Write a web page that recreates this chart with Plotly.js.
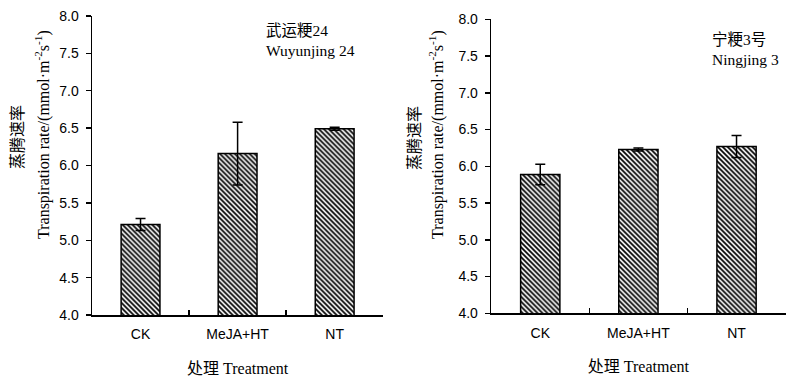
<!DOCTYPE html>
<html>
<head>
<meta charset="utf-8">
<script src="https://cdn.plot.ly/plotly-3.0.1.min.js"></script>
<style>html,body{margin:0;padding:0;background:#fff}#chart{width:800px;height:387px}</style>
</head>
<body>
<div id="chart"></div>
<script>
// Data
const categories = ["CK", "MeJA+HT", "NT"];
const wuyunjingValues = [5.21, 6.16, 6.49];
const wuyunjingErrors = [0.08, 0.42, 0.02];
const ningjingValues = [5.89, 6.23, 6.27];
const ningjingErrors = [0.14, 0.02, 0.15];
const yTickVals = [4.0, 4.5, 5.0, 5.5, 6.0, 6.5, 7.0, 7.5, 8.0];
const panelLabels = ["武运粳24<br>Wuyunjing 24", "宁粳3号<br>Ningjing 3"];
const xTitle = "处理 Treatment";
const yTitleCn = "蒸腾速率";
const yTitleEn = "Transpiration rate/(mmol·m<sup>-2</sup>s<sup>-1</sup>)";

const serif = "Liberation Serif, 'Times New Roman', 'Noto Sans CJK SC', serif";
const sans = "Liberation Sans, Arial, sans-serif";

function barTrace(vals, errs, xa, ya) {
  return {
    type: "bar", x: categories, y: vals, xaxis: xa, yaxis: ya, width: 0.4,
    marker: {
      color: "white",
      line: {color: "black", width: 1.5},
      pattern: {shape: "\\", size: 3.5, solidity: 0.5, fgcolor: "black", bgcolor: "white", fillmode: "replace"}
    },
    error_y: {type: "data", array: errs, visible: true, color: "black", thickness: 1.5, width: 5},
    showlegend: false, hoverinfo: "skip"
  };
}

const xCommon = {
  type: "category", showline: true, linecolor: "black", linewidth: 1.5,
  ticks: "inside", ticklen: 5, tickcolor: "black", tickwidth: 1.5, tickson: "boundaries",
  tickfont: {family: sans, size: 14, color: "black"}, ticklabelstandoff: 6,
  showgrid: false, zeroline: false, fixedrange: true,
  title: {text: xTitle, font: {family: serif, size: 16, color: "black"}, standoff: 21}
};
const yCommon = {
  range: [4, 8], tickvals: yTickVals, tickformat: ".1f",
  showline: true, linecolor: "black", linewidth: 1.5,
  ticks: "outside", ticklen: 5, tickcolor: "black", tickwidth: 1.5,
  tickfont: {family: sans, size: 14, color: "black"}, ticklabelstandoff: 4,
  showgrid: false, zeroline: false, fixedrange: true
};

const data = [
  barTrace(wuyunjingValues, wuyunjingErrors, "x", "y"),
  barTrace(ningjingValues, ningjingErrors, "x2", "y2")
];

const titleFont = {family: serif, size: 16, color: "black"};
function yTitleAnn(text, xpx, ypx) {
  return {text: text, xref: "paper", yref: "paper", x: xpx / 800, y: 1 - ypx / 387,
          xanchor: "center", yanchor: "middle", textangle: -90, showarrow: false, font: titleFont};
}

const layout = {
  width: 800, height: 387,
  margin: {l: 0, r: 0, t: 0, b: 0},
  paper_bgcolor: "white", plot_bgcolor: "white",
  xaxis: Object.assign({}, xCommon, {domain: [0.115, 0.479], anchor: "y"}),
  yaxis: Object.assign({}, yCommon, {domain: [0.186, 0.9587], anchor: "x"}),
  xaxis2: Object.assign({}, xCommon, {domain: [0.614, 0.982], anchor: "y2"}),
  yaxis2: Object.assign({}, yCommon, {domain: [0.1904, 0.950], anchor: "x2"}),
  annotations: [
    {text: panelLabels[0], xref: "paper", yref: "paper", x: 0.33, y: 0.8966, xanchor: "left", yanchor: "middle",
     align: "left", showarrow: false, font: {family: serif, size: 15.5, color: "black"}},
    {text: panelLabels[1], xref: "paper", yref: "paper", x: 0.8875, y: 0.872, xanchor: "left", yanchor: "middle",
     align: "left", showarrow: false, font: {family: serif, size: 15.5, color: "black"}},
    yTitleAnn(yTitleCn, 17, 137),
    yTitleAnn(yTitleEn, 43, 135),
    yTitleAnn(yTitleCn, 414, 138),
    yTitleAnn(yTitleEn, 437, 135)
  ]
};

Plotly.newPlot("chart", data, layout, {displayModeBar: false, staticPlot: true});
</script>
</body>
</html>
